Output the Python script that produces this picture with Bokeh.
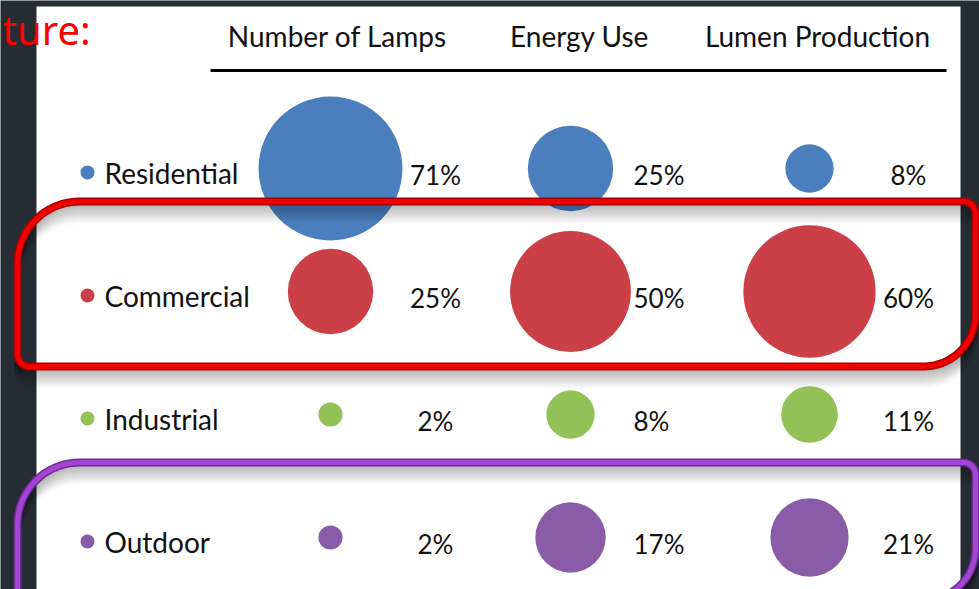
import numpy as np
from bokeh.plotting import figure
from bokeh.models import Range1d, ColumnDataSource
from bokeh.embed import file_html
from bokeh.resources import INLINE
from bokeh.core.properties import value

# ---- data ----
categories = ["Residential", "Commercial", "Industrial", "Outdoor"]
metrics = ["Number of Lamps", "Energy Use", "Lumen Production"]
lamps_pct = [71, 25, 2, 2]
energy_pct = [25, 50, 8, 17]
lumen_pct = [8, 60, 11, 21]
series = [lamps_pct, energy_pct, lumen_pct]
cat_colors = ["#4a7ebd", "#cb3f47", "#92c257", "#8a5ca7"]

# ---- layout (pixel space, y grows downward) ----
W, H = 979, 589
BG = "#262c34"
FONT = value("Lato")
row_y = [172 + 123 * i for i in range(len(categories))]
col_x = [330, 570, 809]
header_x = [337, 579, 817]
label_x = [435, 633, 908]
label_align = ["center", "left", "center"]
AREA_K = 8.54  # circle radius (px) = AREA_K * sqrt(percent) -> area ∝ share

p = figure(width=W, height=H, x_range=Range1d(0, W), y_range=Range1d(H, 0),
           output_backend="svg", toolbar_location=None,
           x_axis_type=None, y_axis_type=None, min_border=0)
p.background_fill_color = BG
p.border_fill_color = BG
p.outline_line_color = None

# white slide panel
p.quad(left=36, right=960, top=6, bottom=H + 5, fill_color="white", line_color=None)

# column headers and rule
p.text(x=header_x, y=[35] * 3, text=metrics, text_font=FONT, text_font_size="28px",
       text_align="center", text_baseline="middle", text_color="#111111")
p.line([210, 946], [70, 70], line_width=3, line_color="black")

# category legend (dot + name)
p.scatter(x=[87] * 4, y=row_y, size=14, marker="circle",
          fill_color=cat_colors, line_color=None)
p.text(x=[104] * 4, y=row_y, text=categories, text_font=FONT, text_font_size="28px",
       text_align="left", text_baseline="middle", text_color="#111111")

# bubbles and percentage labels per metric
for j, vals in enumerate(series):
    src = ColumnDataSource(dict(
        x=[col_x[j]] * len(vals),
        y=[y - 4 for y in row_y],
        size=[2 * AREA_K * np.sqrt(v) for v in vals],
        color=cat_colors,
        ly=[y + 2 for y in row_y],
        lx=[label_x[j]] * len(vals),
        txt=[f"{v}%" for v in vals],
    ))
    p.scatter(x="x", y="y", size="size", marker="circle", fill_color="color",
              line_color=None, source=src)
    p.text(x="lx", y="ly", text="txt", source=src, text_font=FONT,
           text_font_size="26px", text_align=label_align[j],
           text_baseline="middle", text_color="#111111")


def rounded_path(x0, y0, x1, y1, r_tl, r_tr, r_br, r_bl, n=20):
    """Closed outline of a rectangle with individual corner radii (y down)."""
    xs, ys = [], []
    corners = [
        (x0 + r_tl, y0 + r_tl, r_tl, 180, 270),
        (x1 - r_tr, y0 + r_tr, r_tr, 270, 360),
        (x1 - r_br, y1 - r_br, r_br, 0, 90),
        (x0 + r_bl, y1 - r_bl, r_bl, 90, 180),
    ]
    for cx, cy, r, a0, a1 in corners:
        t = np.radians(np.linspace(a0, a1, n))
        xs.extend(cx + r * np.cos(t))
        ys.extend(cy + r * np.sin(t))
    xs.append(xs[0])
    ys.append(ys[0])
    return np.array(xs), np.array(ys)


frames = [
    (rounded_path(17, 201, 975, 366, 62, 12, 52, 12), "#a80000", "#f00000"),
    (rounded_path(17, 462, 975, 600, 62, 12, 52, 12), "#6f2a96", "#a444d4"),
]

# soft drop shadow under the highlight frames
for (fx, fy), _, _ in frames:
    for dy in range(2, 22, 2):
        p.line(fx, fy + dy, line_width=6, line_color="black",
               line_alpha=0.12 * (1 - dy / 22), line_join="round")

for (fx, fy), dark, bright in frames:
    p.line(fx, fy, line_width=8, line_color=dark, line_join="round")
    p.line(fx, fy, line_width=5, line_color=bright, line_join="round")

# slide caption fragment
p.text(x=[2], y=[1], text=["ture:"], text_font=value("Noto Sans"),
       text_font_size="40px", text_align="left", text_baseline="top",
       text_color="#ff0000")

open("out.html", "w").write(file_html(p, INLINE))
